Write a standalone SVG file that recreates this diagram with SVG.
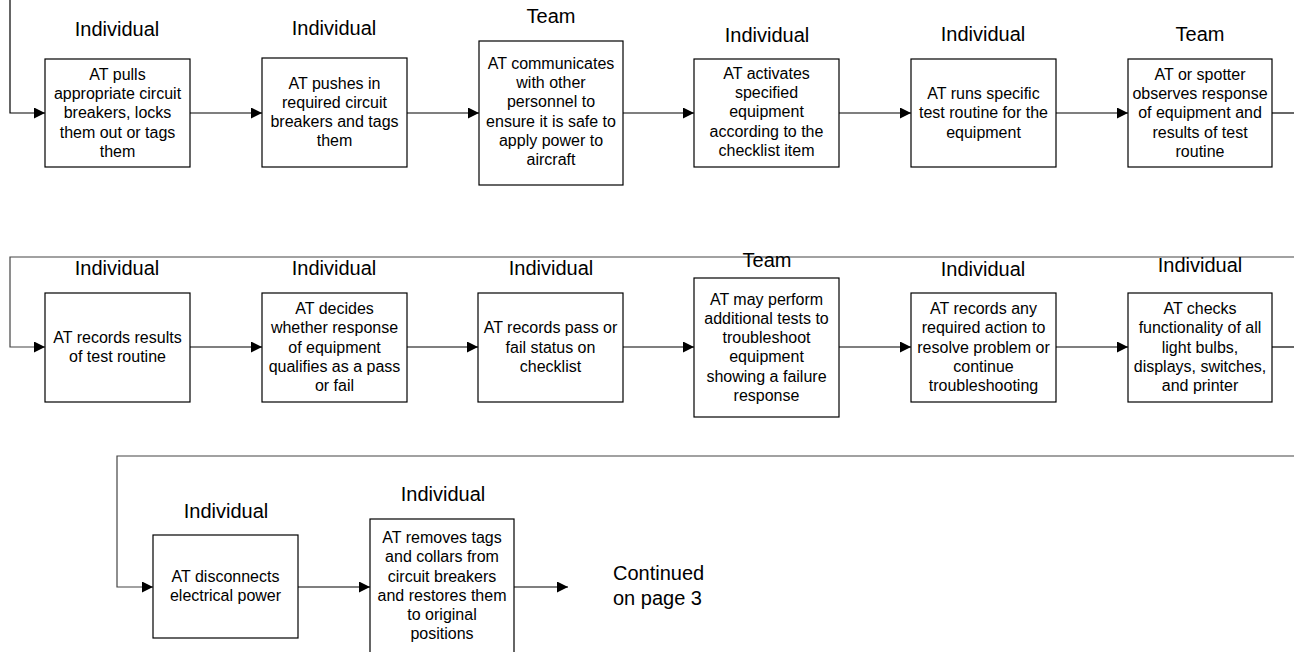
<svg xmlns="http://www.w3.org/2000/svg" width="1294" height="652" viewBox="0 0 1294 652">
<style>
.box{fill:#fff;stroke:#000;stroke-width:1.2}
.lbl{font-family:"Liberation Sans",Arial,sans-serif;font-size:20px;fill:#000;text-anchor:middle}
.txt{font-family:"Liberation Sans",Arial,sans-serif;font-size:16px;fill:#000;text-anchor:middle}
.ln{fill:none;stroke:#000;stroke-width:1.2}
.ln2{fill:none;stroke:#444;stroke-width:1.2}
</style>
<defs>
<marker id="ah" markerUnits="userSpaceOnUse" markerWidth="11" markerHeight="11" refX="11" refY="5.5" orient="auto">
<path d="M0,0 L11,5.5 L0,11 z" fill="#000"/>
</marker>
</defs>
<rect width="1294" height="652" fill="#fff"/>
<g id="connectors">
<path class="ln" d="M10,0 V113 H45" marker-end="url(#ah)"/>
<path class="ln" d="M190,113 H262" marker-end="url(#ah)"/>
<path class="ln" d="M407,113 H479" marker-end="url(#ah)"/>
<path class="ln" d="M623,113 H694" marker-end="url(#ah)"/>
<path class="ln" d="M839,113 H911" marker-end="url(#ah)"/>
<path class="ln" d="M1056,113 H1128" marker-end="url(#ah)"/>
<path class="ln" d="M1272,113 H1294"/>
<path class="ln2" d="M1294,257 H10 V347 H45" marker-end="url(#ah)"/>
<path class="ln" d="M190,347 H262" marker-end="url(#ah)"/>
<path class="ln" d="M407,347 H478" marker-end="url(#ah)"/>
<path class="ln" d="M623,347 H694" marker-end="url(#ah)"/>
<path class="ln" d="M839,347 H911" marker-end="url(#ah)"/>
<path class="ln" d="M1056,347 H1128" marker-end="url(#ah)"/>
<path class="ln" d="M1272,347 H1294"/>
<path class="ln2" d="M1294,456 H117 V587 H153" marker-end="url(#ah)"/>
<path class="ln" d="M298,587 H370" marker-end="url(#ah)"/>
<path class="ln" d="M514,587 H568" marker-end="url(#ah)"/>
</g>
<g id="n1">
<text class="lbl" x="117" y="36">Individual</text>
<rect class="box" x="45" y="59" width="145" height="108"/>
<text class="txt" x="117.5"><tspan x="117.5" y="80">AT pulls</tspan><tspan x="117.5" y="99">appropriate circuit</tspan><tspan x="117.5" y="118">breakers, locks</tspan><tspan x="117.5" y="138">them out or tags</tspan><tspan x="117.5" y="157">them</tspan></text>
</g>
<g id="n2">
<text class="lbl" x="334" y="35">Individual</text>
<rect class="box" x="262" y="58" width="145" height="109"/>
<text class="txt"><tspan x="334.5" y="89">AT pushes in</tspan><tspan x="334.5" y="108">required circuit</tspan><tspan x="334.5" y="127">breakers and tags</tspan><tspan x="334.5" y="146">them</tspan></text>
</g>
<g id="n3">
<text class="lbl" x="551" y="23">Team</text>
<rect class="box" x="479" y="41" width="144" height="144"/>
<text class="txt"><tspan x="551" y="69">AT communicates</tspan><tspan x="551" y="88">with other</tspan><tspan x="551" y="107">personnel to</tspan><tspan x="551" y="127">ensure it is safe to</tspan><tspan x="551" y="146">apply power to</tspan><tspan x="551" y="165">aircraft</tspan></text>
</g>
<g id="n4">
<text class="lbl" x="767" y="42">Individual</text>
<rect class="box" x="694" y="59" width="145" height="108"/>
<text class="txt"><tspan x="766.5" y="79">AT activates</tspan><tspan x="766.5" y="98">specified</tspan><tspan x="766.5" y="117">equipment</tspan><tspan x="766.5" y="137">according to the</tspan><tspan x="766.5" y="156">checklist item</tspan></text>
</g>
<g id="n5">
<text class="lbl" x="983" y="41">Individual</text>
<rect class="box" x="911" y="59" width="145" height="108"/>
<text class="txt"><tspan x="983.5" y="99">AT runs specific</tspan><tspan x="983.5" y="118">test routine for the</tspan><tspan x="983.5" y="138">equipment</tspan></text>
</g>
<g id="n6">
<text class="lbl" x="1200" y="41">Team</text>
<rect class="box" x="1128" y="59" width="144" height="108"/>
<text class="txt"><tspan x="1200" y="80">AT or spotter</tspan><tspan x="1200" y="99">observes response</tspan><tspan x="1200" y="118">of equipment and</tspan><tspan x="1200" y="138">results of test</tspan><tspan x="1200" y="157">routine</tspan></text>
</g>
<g id="n7">
<text class="lbl" x="117" y="275">Individual</text>
<rect class="box" x="45" y="293" width="145" height="109"/>
<text class="txt"><tspan x="117.5" y="343">AT records results</tspan><tspan x="117.5" y="362">of test routine</tspan></text>
</g>
<g id="n8">
<text class="lbl" x="334" y="275">Individual</text>
<rect class="box" x="262" y="293" width="145" height="109"/>
<text class="txt"><tspan x="334.5" y="314">AT decides</tspan><tspan x="334.5" y="333">whether response</tspan><tspan x="334.5" y="353">of equipment</tspan><tspan x="334.5" y="372">qualifies as a pass</tspan><tspan x="334.5" y="391">or fail</tspan></text>
</g>
<g id="n9">
<text class="lbl" x="551" y="275">Individual</text>
<rect class="box" x="478" y="293" width="145" height="109"/>
<text class="txt"><tspan x="550.5" y="333">AT records pass or</tspan><tspan x="550.5" y="353">fail status on</tspan><tspan x="550.5" y="372">checklist</tspan></text>
</g>
<g id="n10">
<text class="lbl" x="767" y="267">Team</text>
<rect class="box" x="694" y="278" width="145" height="139"/>
<text class="txt"><tspan x="766.5" y="305">AT may perform</tspan><tspan x="766.5" y="324">additional tests to</tspan><tspan x="766.5" y="343">troubleshoot</tspan><tspan x="766.5" y="362">equipment</tspan><tspan x="766.5" y="382">showing a failure</tspan><tspan x="766.5" y="401">response</tspan></text>
</g>
<g id="n11">
<text class="lbl" x="983" y="276">Individual</text>
<rect class="box" x="911" y="293" width="145" height="109"/>
<text class="txt"><tspan x="983.5" y="314">AT records any</tspan><tspan x="983.5" y="333">required action to</tspan><tspan x="983.5" y="353">resolve problem or</tspan><tspan x="983.5" y="372">continue</tspan><tspan x="983.5" y="391">troubleshooting</tspan></text>
</g>
<g id="n12">
<text class="lbl" x="1200" y="272">Individual</text>
<rect class="box" x="1128" y="293" width="144" height="109"/>
<text class="txt"><tspan x="1200" y="314">AT checks</tspan><tspan x="1200" y="333">functionality of all</tspan><tspan x="1200" y="353">light bulbs,</tspan><tspan x="1200" y="372">displays, switches,</tspan><tspan x="1200" y="391">and printer</tspan></text>
</g>
<g id="n13">
<text class="lbl" x="226" y="518">Individual</text>
<rect class="box" x="153" y="535" width="145" height="103"/>
<text class="txt"><tspan x="225.5" y="582">AT disconnects</tspan><tspan x="225.5" y="601">electrical power</tspan></text>
</g>
<g id="n14">
<text class="lbl" x="443" y="501">Individual</text>
<rect class="box" x="370" y="519" width="144" height="150"/>
<text class="txt"><tspan x="442" y="543">AT removes tags</tspan><tspan x="442" y="562">and collars from</tspan><tspan x="442" y="582">circuit breakers</tspan><tspan x="442" y="601">and restores them</tspan><tspan x="442" y="620">to original</tspan><tspan x="442" y="639">positions</tspan></text>
</g>
<g id="n15">
<text class="lbl" style="text-anchor:start"><tspan x="613" y="580">Continued</tspan><tspan x="613" y="605">on page 3</tspan></text>
</g>
</svg>
